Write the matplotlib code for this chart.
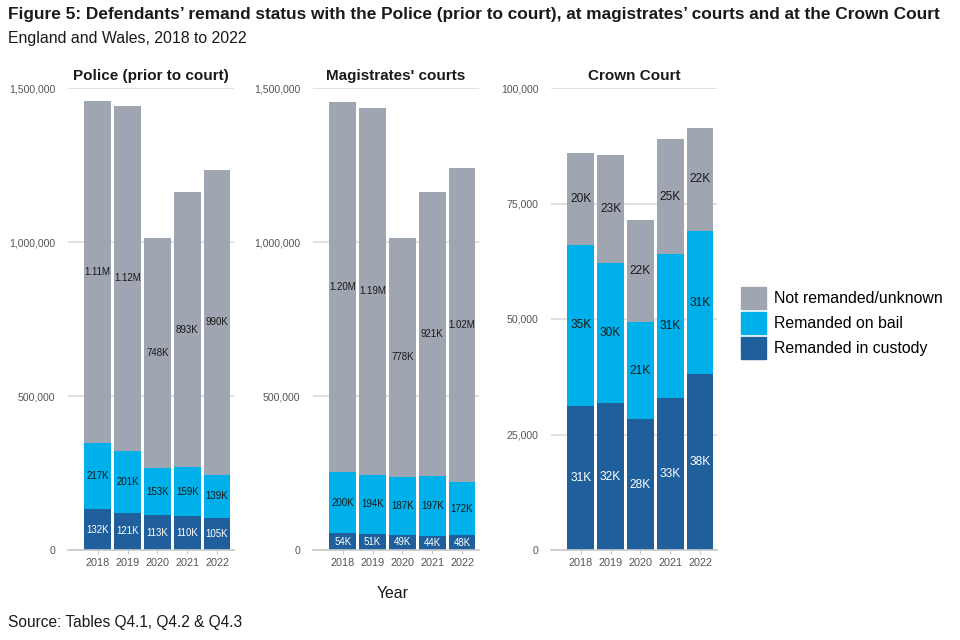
import numpy as np
import matplotlib.pyplot as plt
from matplotlib.patches import Patch

plt.rcParams['font.family'] = ['Liberation Sans', 'DejaVu Sans']

years = ['2018', '2019', '2020', '2021', '2022']

# Police (prior to court)
police_custody = [132000, 121000, 113000, 110000, 105000]
police_bail = [217000, 201000, 153000, 159000, 139000]
police_not = [1110000, 1120000, 748000, 893000, 990000]

# Magistrates' courts
mags_custody = [54000, 51000, 49000, 44000, 48000]
mags_bail = [200000, 194000, 187000, 197000, 172000]
mags_not = [1200000, 1190000, 778000, 921000, 1020000]

# Crown Court
crown_custody = [31100, 31800, 28300, 33000, 38000]
crown_bail = [35000, 30400, 21100, 31000, 31100]
crown_not = [19800, 23400, 22100, 24900, 22200]

c_not = '#A0A5B2'
c_bail = '#00B0EA'
c_cust = '#1F5F9C'


def fmt(v):
    if v >= 1e6:
        return f'{v/1e6:.2f}M'
    return f'{v/1e3:.0f}K'


fig = plt.figure(figsize=(9.6, 6.4), dpi=100)
W, H = 960, 640


def px_axes(x0, x1, y0, y1):
    return fig.add_axes([x0 / W, 1 - y1 / H, (x1 - x0) / W, (y1 - y0) / H])


panels = [
    ('Police (prior to court)', police_custody, police_bail, police_not,
     (68, 234), 1500000, [0, 500000, 1000000, 1500000], 7.0),
    ("Magistrates' courts", mags_custody, mags_bail, mags_not,
     (313, 479), 1500000, [0, 500000, 1000000, 1500000], 7.0),
    ('Crown Court', crown_custody, crown_bail, crown_not,
     (551, 717), 100000, [0, 25000, 50000, 75000, 100000], 8.6),
]

x = np.arange(len(years))
for title, cust, bail, notr, (x0, x1), ymax, yticks, lsize in panels:
    ax = px_axes(x0, x1, 88, 550)
    cust = np.array(cust)
    bail = np.array(bail)
    notr = np.array(notr)
    ax.bar(x, cust, width=0.9, color=c_cust, zorder=2)
    ax.bar(x, bail, width=0.9, bottom=cust, color=c_bail, zorder=2)
    ax.bar(x, notr, width=0.9, bottom=cust + bail, color=c_not, zorder=2)
    for i in range(len(x)):
        ax.text(x[i], cust[i] / 2, fmt(cust[i]), ha='center', va='center',
                fontsize=lsize, color='white', zorder=3)
        ax.text(x[i], cust[i] + bail[i] / 2, fmt(bail[i]), ha='center',
                va='center', fontsize=lsize, color='#1a1a1a', zorder=3)
        ax.text(x[i], cust[i] + bail[i] + notr[i] / 2, fmt(notr[i]),
                ha='center', va='center', fontsize=lsize, color='#1a1a1a',
                zorder=3)
    ax.set_xlim(-1.0, 4.57)
    ax.set_ylim(0, ymax)
    ax.set_yticks(yticks)
    ax.set_yticklabels([f'{t:,}' for t in yticks])
    ax.set_xticks(x)
    ax.set_xticklabels(years)
    ax.grid(axis='y', color='#dcdcdc', linewidth=1.2, zorder=0)
    for s in ['top', 'right', 'left']:
        ax.spines[s].set_visible(False)
    ax.spines['bottom'].set_color('#c8c8c8')
    ax.spines['bottom'].set_linewidth(1.2)
    ax.tick_params(axis='y', length=0, labelsize=7.6, labelcolor='#555555',
                   pad=9)
    ax.tick_params(axis='x', length=3, color='#c8c8c8', labelsize=7.8,
                   labelcolor='#555555', pad=3)
    ax.set_title(title, fontsize=11, fontweight='bold', color='#1a1a1a',
                 pad=6)

fig.text(8 / W, 1 - 15 / H,
         "Figure 5: Defendants\u2019 remand status with the Police (prior to court), "
         "at magistrates\u2019 courts and at the Crown Court",
         fontsize=12.4, fontweight='bold', ha='left', va='center', color='#1a1a1a')
fig.text(8 / W, 1 - 38 / H, 'England and Wales, 2018 to 2022',
         fontsize=11.4, ha='left', va='center', color='#1a1a1a')
fig.text(393 / W, 1 - 593 / H, 'Year', fontsize=11.4, ha='center',
         va='center', color='#1a1a1a')
fig.text(8 / W, 1 - 623 / H, 'Source: Tables Q4.1, Q4.2 & Q4.3',
         fontsize=11.2, ha='left', va='center', color='#1a1a1a')

handles = [Patch(color=c_not, label='Not remanded/unknown'),
           Patch(color=c_bail, label='Remanded on bail'),
           Patch(color=c_cust, label='Remanded in custody')]
fig.legend(handles=handles, loc='center left',
           bbox_to_anchor=(733 / W, 1 - 323 / H), frameon=False,
           fontsize=11.4, handlelength=1.6, handleheight=1.75,
           handletextpad=0.5, labelspacing=0.2, borderpad=0)

fig.savefig('out.png', dpi=100)
